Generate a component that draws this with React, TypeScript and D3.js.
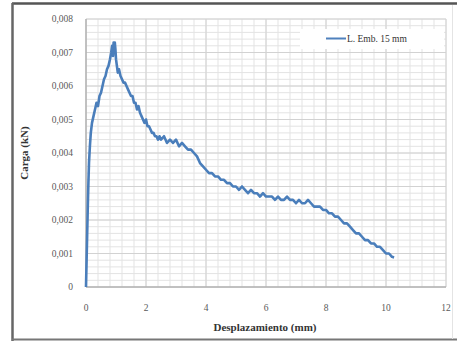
import React from "react";
import * as d3 from "d3";

const xTicks = [0, 2, 4, 6, 8, 10, 12];
const yTicks = [0, 0.001, 0.002, 0.003, 0.004, 0.005, 0.006, 0.007, 0.008];
const seriesName = "L. Emb. 15 mm";

const desplazamiento = [
  0, 0.02, 0.04, 0.06, 0.08, 0.1, 0.13, 0.16, 0.2, 0.25, 0.3, 0.35, 0.4, 0.45, 0.5, 0.55, 0.6, 0.65, 0.7, 0.75,
  0.8, 0.84, 0.87, 0.9, 0.92, 0.94, 0.96, 0.98, 1.0, 1.03, 1.06, 1.1, 1.15, 1.2, 1.25, 1.3, 1.35, 1.4, 1.45, 1.5,
  1.55, 1.6, 1.65, 1.7, 1.75, 1.8, 1.85, 1.9, 1.95, 2.0, 2.05, 2.1, 2.15, 2.2, 2.25, 2.3, 2.35, 2.4, 2.45, 2.5,
  2.6, 2.7, 2.8, 2.9, 3.0, 3.1, 3.2, 3.3, 3.4, 3.5, 3.6, 3.7, 3.8, 3.9, 4.0, 4.1, 4.2, 4.3, 4.4, 4.5,
  4.6, 4.7, 4.8, 4.9, 5.0, 5.1, 5.2, 5.3, 5.4, 5.5, 5.6, 5.7, 5.8, 5.9, 6.0, 6.1, 6.2, 6.3, 6.4, 6.5,
  6.6, 6.7, 6.8, 6.9, 7.0, 7.1, 7.2, 7.3, 7.4, 7.5, 7.6, 7.7, 7.8, 7.9, 8.0, 8.1, 8.2, 8.3, 8.4, 8.5,
  8.6, 8.7, 8.8, 8.9, 9.0, 9.1, 9.2, 9.3, 9.4, 9.5, 9.6, 9.7, 9.8, 9.9, 10.0, 10.1, 10.2, 10.27,
];
const carga = [
  0, 0.0008, 0.0016, 0.0024, 0.0031, 0.0037, 0.0042, 0.0046, 0.0049, 0.0051, 0.0053, 0.0055, 0.0054, 0.0057, 0.0058, 0.006, 0.0062, 0.0063, 0.0065, 0.0066,
  0.0068, 0.007, 0.0072, 0.0069, 0.0073, 0.007, 0.0073, 0.0071, 0.0068, 0.0066, 0.0064, 0.0065, 0.0063, 0.0062, 0.0061, 0.0061, 0.006, 0.0059, 0.0058, 0.0057,
  0.0057, 0.0055, 0.0055, 0.0053, 0.0054, 0.0052, 0.0051, 0.005, 0.0049, 0.005, 0.0048, 0.0048, 0.0047, 0.0046, 0.0046, 0.0045, 0.0045, 0.0044, 0.0045, 0.0044,
  0.0045, 0.0043, 0.0044, 0.0043, 0.0044, 0.0042, 0.0043, 0.0042, 0.0041, 0.0041, 0.004, 0.0039, 0.0037, 0.0036, 0.0035, 0.0034, 0.0034, 0.0033, 0.0033, 0.0032,
  0.0032, 0.0031, 0.0031, 0.003, 0.003, 0.0029, 0.003, 0.0029, 0.0028, 0.0029, 0.0028, 0.0028, 0.0027, 0.0028, 0.0027, 0.0027, 0.0027, 0.0026, 0.0027, 0.0026,
  0.0026, 0.0027, 0.0026, 0.0026, 0.0025, 0.0026, 0.0025, 0.0025, 0.0026, 0.0025, 0.0024, 0.0024, 0.0024, 0.0023, 0.0023, 0.0022, 0.0022, 0.0021, 0.0021, 0.002,
  0.0019, 0.0019, 0.0018, 0.0017, 0.0016, 0.0016, 0.0015, 0.0014, 0.0014, 0.0013, 0.0013, 0.0012, 0.0012, 0.0011, 0.001, 0.001, 0.0009, 0.00088,
];

export default function App() {
  const W = 457;
  const H = 341;
  const x = d3.scaleLinear().domain([0, 12]).range([86, 446]);
  const y = d3.scaleLinear().domain([0, 0.008]).range([287, 19]);

  const minorX = d3.range(0, 12.0001, 0.4);
  const minorY = d3.range(0, 0.00800001, 0.0002);

  const pts: [number, number][] = desplazamiento.map((d, i) => [d, carga[i]]);
  const line = d3
    .line<[number, number]>()
    .x((d) => x(d[0]))
    .y((d) => y(d[1]));

  const fmt = (v: number) => (v === 0 ? "0" : v.toFixed(3).replace(".", ","));

  return (
    <svg
      width={W}
      height={H}
      style={{ position: "absolute", left: 0, top: 0, background: "#fff" }}
      fontFamily="'Liberation Serif', 'Times New Roman', serif"
    >
      <rect x={0} y={0} width={W} height={H} fill="#fff" />
      {/* outer chart frame */}
      <line x1={12} x2={457} y1={3.5} y2={3.5} stroke="#555" strokeWidth={2.5} />
      <line x1={12.5} x2={12.5} y1={3} y2={341} stroke="#666" strokeWidth={2.5} />
      <line x1={12} x2={457} y1={339.5} y2={339.5} stroke="#777" strokeWidth={2} />
      <line x1={452.5} x2={452.5} y1={5} y2={339} stroke="#e4e4e4" strokeWidth={1} />

      {/* minor grid */}
      {minorX.map((v, i) => (
        <line key={"mx" + i} x1={x(v)} x2={x(v)} y1={y(0.008)} y2={y(0)} stroke="#e3e3e3" strokeWidth={1} />
      ))}
      {minorY.map((v, i) => (
        <line key={"my" + i} x1={x(0)} x2={x(12)} y1={y(v)} y2={y(v)} stroke="#e3e3e3" strokeWidth={1} />
      ))}
      {/* major grid */}
      {xTicks.map((v) => (
        <line key={"gx" + v} x1={x(v)} x2={x(v)} y1={y(0.008)} y2={y(0)} stroke="#d2d2d2" strokeWidth={1} />
      ))}
      {yTicks.map((v) => (
        <line key={"gy" + v} x1={x(0)} x2={x(12)} y1={y(v)} y2={y(v)} stroke="#d2d2d2" strokeWidth={1} />
      ))}

      {/* axes */}
      <line x1={x(0)} x2={x(0)} y1={y(0.008)} y2={y(0)} stroke="#a0a0a0" strokeWidth={1} />
      <line x1={x(0)} x2={x(12)} y1={y(0)} y2={y(0)} stroke="#a0a0a0" strokeWidth={1} />

      {/* tick labels */}
      {yTicks.map((v) => (
        <text key={"ty" + v} x={73} y={y(v)} dy="0.35em" textAnchor="end" fontSize={9.5} fill="#595959">
          {fmt(v)}
        </text>
      ))}
      {xTicks.map((v) => (
        <text key={"tx" + v} x={x(v)} y={308} dy="0.35em" textAnchor="middle" fontSize={9.5} fill="#595959">
          {v}
        </text>
      ))}

      {/* axis titles */}
      <text
        transform={`translate(24,${(y(0) + y(0.008)) / 2}) rotate(-90)`}
        textAnchor="middle"
        dy="0.35em"
        fontSize={11}
        fontWeight="bold"
        fill="#333"
      >
        Carga (kN)
      </text>
      <text x={265} y={327} dy="0.35em" textAnchor="middle" fontSize={11} fontWeight="bold" fill="#333">
        Desplazamiento (mm)
      </text>

      {/* legend */}
      <rect x={300} y={29} width={144} height={20} fill="#fff" />
      <line x1={326} x2={346} y1={38.5} y2={38.5} stroke="#4f81bd" strokeWidth={2} />
      <text x={347} y={38.5} dy="0.35em" fontSize={9.5} fill="#333">
        {seriesName}
      </text>

      {/* series */}
      <path d={line(pts) || ""} fill="none" stroke="#4a7ebb" strokeWidth={2.6} strokeLinejoin="round" />
    </svg>
  );
}
